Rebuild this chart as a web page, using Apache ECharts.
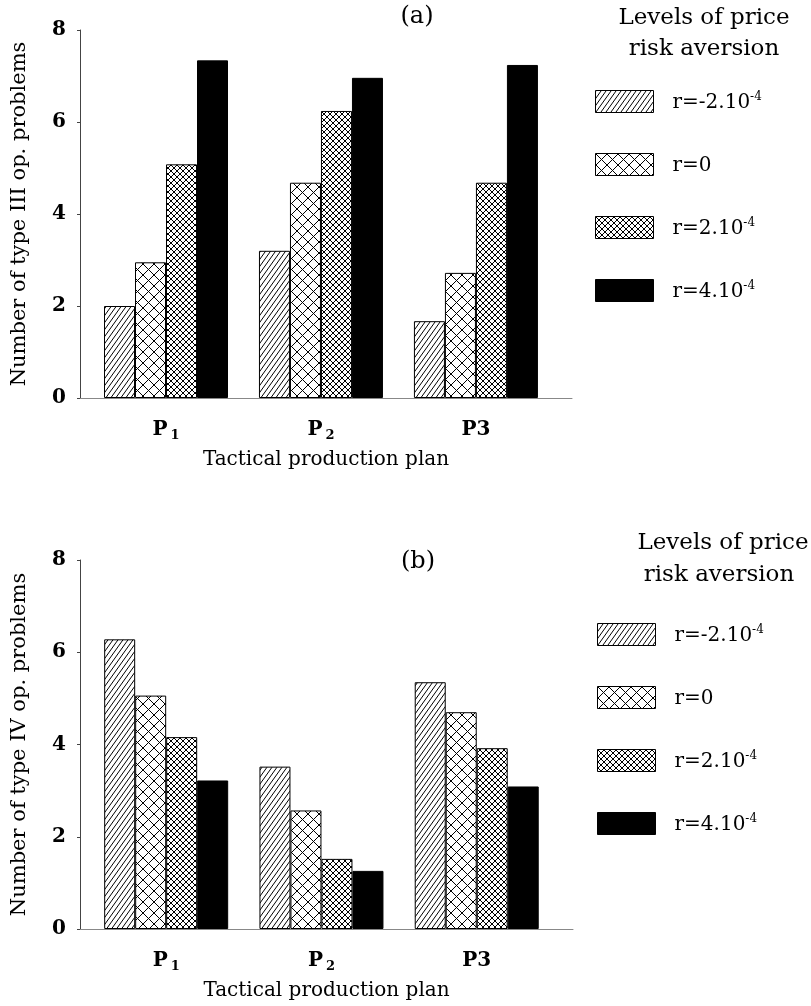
<!DOCTYPE html>
<html>
<head>
<meta charset="utf-8">
<script src="https://cdn.jsdelivr.net/npm/echarts@6/dist/echarts.min.js"></script>
<style>
  html, body { margin: 0; padding: 0; background: #fff; }
  #chart { width: 811px; height: 1006px; }
</style>
</head>
<body>
<div id="chart"></div>
<script>
// Tactical production plans (x positions on the value axis) and their labels
var planPositions = [1, 2, 3];
var planLabels = ['P{sub|1}', 'P{sub|2}', 'P3'];

// Levels of price risk aversion (series names; "^" marks the exponent)
var riskLevels = ['r=-2.10^-4', 'r=0', 'r=2.10^-4', 'r=4.10^-4'];

// (a) Number of type III operational problems, per plan
var typeIIIneg2 = [2.0, 3.2, 1.67];
var typeIIIzero = [2.95, 4.68, 2.72];
var typeIIIpos2 = [5.08, 6.24, 4.68];
var typeIIIpos4 = [7.34, 6.96, 7.24];

// (b) Number of type IV operational problems, per plan
var typeIVneg2 = [6.28, 3.52, 5.35];
var typeIVzero = [5.06, 2.57, 4.70];
var typeIVpos2 = [4.16, 1.52, 3.92];
var typeIVpos4 = [3.22, 1.26, 3.09];

// y-axis tick range
var yMin = 0, yMax = 8, yStep = 2;

var FONT = 'DejaVu Serif';

// Hatch fills drawn on small tiles; offset shifts the pattern origin
function tile(w, h, draw, offset) {
  var c = document.createElement('canvas');
  c.width = w; c.height = h;
  var g = c.getContext('2d');
  g.fillStyle = '#fff';
  g.fillRect(0, 0, w, h);
  g.strokeStyle = '#000';
  g.lineWidth = 1;
  draw(g, w, h);
  return { image: c, repeat: 'repeat', x: offset || 0, y: offset || 0 };
}
function hatch(g, w, h) {
  g.beginPath();
  g.moveTo(0, h); g.lineTo(w, 0);
  g.moveTo(-w, h); g.lineTo(0, 0);
  g.moveTo(w, h); g.lineTo(2 * w, 0);
  g.stroke();
}
function cross(g, w, h) {
  g.beginPath();
  g.moveTo(-1, h + 1); g.lineTo(w + 1, -1);
  g.moveTo(-1, -1); g.lineTo(w + 1, h + 1);
  g.stroke();
}
function makeFills(offset) {
  return [
    tile(5, 7, hatch, offset),
    tile(11, 11, cross, offset),
    tile(6, 6, cross, offset),
    '#000'
  ];
}
var barFills = makeFills(0);
// legend keys sit half a pixel off the grid (their border stroke), so shift their tiles back
var keyFills = makeFills(0.5);

var supRich = {
  base: { fontFamily: FONT, fontSize: 20, color: '#000', lineHeight: 22, verticalAlign: 'bottom' },
  sup: { fontFamily: FONT, fontSize: 12, color: '#000', lineHeight: 12, verticalAlign: 'top' }
};
function legendText(name) {
  var parts = name.split('^');
  return '{base|' + parts[0] + '}' + (parts[1] ? '{sup|' + parts[1] + '}' : '');
}

var subRich = {
  sub: { fontFamily: FONT, fontSize: 13, fontWeight: 'bold', color: '#000', lineHeight: 12, verticalAlign: 'bottom', padding: [0, 0, 0, 3] }
};

function xAxisFor(gridIndex) {
  return {
    type: 'value', gridIndex: gridIndex, min: 0.445, max: 3.62,
    splitLine: { show: false },
    axisLine: { show: true, lineStyle: { color: '#888', width: 1 } },
    axisTick: { show: false },
    axisLabel: {
      customValues: planPositions,
      margin: 20,
      fontFamily: FONT, fontSize: 20, fontWeight: 'bold', color: '#000',
      lineHeight: 24,
      formatter: function (v) { return planLabels[planPositions.indexOf(v)]; },
      rich: subRich
    },
    name: 'Tactical production plan', nameLocation: 'middle', nameGap: 52,
    nameTextStyle: { fontFamily: FONT, fontSize: 20, color: '#000' }
  };
}
function yAxisFor(gridIndex, name) {
  return {
    type: 'value', gridIndex: gridIndex, min: yMin, max: yMax, interval: yStep,
    splitLine: { show: false },
    axisLine: { show: true, lineStyle: { color: '#444', width: 1 } },
    axisTick: { show: true, length: 3, lineStyle: { color: '#444' } },
    axisLabel: { margin: 14, fontFamily: FONT, fontSize: 20, fontWeight: 'bold', color: '#000' },
    name: name, nameLocation: 'middle', nameRotate: 90, nameGap: 50,
    nameTextStyle: { fontFamily: FONT, fontSize: 21, color: '#000' }
  };
}

function seriesFor(gridIndex, groups) {
  return groups.map(function (vals, i) {
    return {
      type: 'bar', name: riskLevels[i],
      xAxisIndex: gridIndex, yAxisIndex: gridIndex,
      barWidth: 31, barGap: '0%',
      itemStyle: { color: barFills[i], borderColor: '#000', borderWidth: 1 },
      emphasis: { disabled: true },
      data: vals.map(function (v, k) { return [planPositions[k], v]; })
    };
  });
}

function legendFor(top, left) {
  return {
    orient: 'vertical', left: left, top: top, padding: 0,
    icon: 'rect', itemWidth: 58, itemHeight: 22, itemGap: 40,
    selectedMode: false,
    data: riskLevels.map(function (name, i) {
      return { name: name, itemStyle: { color: keyFills[i] } };
    }),
    formatter: legendText,
    textStyle: { padding: [0, 0, 0, 14], rich: supRich },
    itemStyle: { borderColor: '#000', borderWidth: 1 }
  };
}

function label(text, x, y, size) {
  return {
    type: 'text', x: x, y: y,
    style: { text: text, fontFamily: FONT, fontSize: size, fill: '#000', align: 'center', verticalAlign: 'middle' }
  };
}

var chart = echarts.init(document.getElementById('chart'), null, { renderer: 'canvas' });
chart.setOption({
  animation: false,
  backgroundColor: '#fff',
  grid: [
    { left: 80, top: 30, width: 492, height: 368 },
    { left: 80, top: 560, width: 493, height: 369 }
  ],
  xAxis: [xAxisFor(0), xAxisFor(1)],
  yAxis: [
    yAxisFor(0, 'Number of type III op. problems'),
    yAxisFor(1, 'Number of type IV op. problems')
  ],
  legend: [legendFor(90, 595), legendFor(623, 597)],
  graphic: [
    label('(a)', 417, 17, 24),
    label('Levels of price', 704, 18, 23),
    label('risk aversion', 704, 49, 23),
    label('(b)', 418, 562, 24),
    label('Levels of price', 723, 543, 23),
    label('risk aversion', 719, 575, 23)
  ],
  series: seriesFor(0, [typeIIIneg2, typeIIIzero, typeIIIpos2, typeIIIpos4])
    .concat(seriesFor(1, [typeIVneg2, typeIVzero, typeIVpos2, typeIVpos4]))
});
</script>
</body>
</html>
